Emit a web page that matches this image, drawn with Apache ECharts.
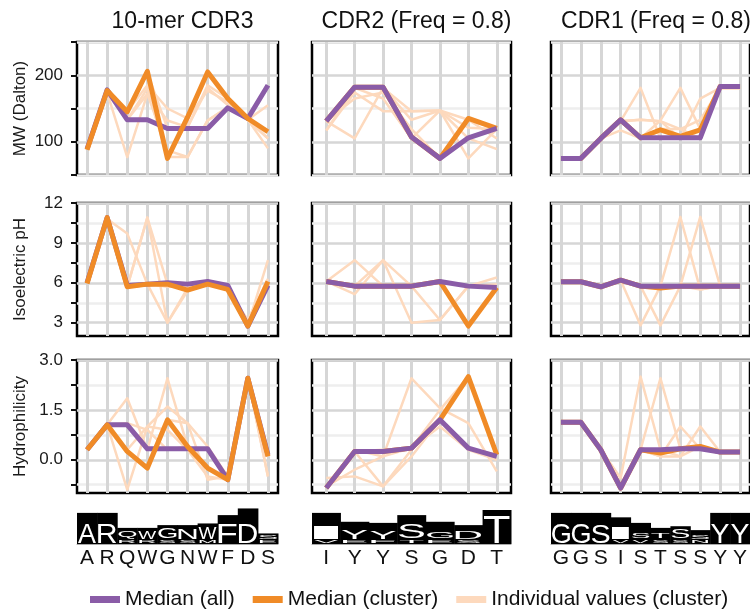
<!DOCTYPE html>
<html>
<head>
<meta charset="utf-8">
<script src="https://cdn.jsdelivr.net/npm/echarts@6/dist/echarts.min.js"></script>
<style>
  html, body { margin: 0; padding: 0; background: #fff; }
  #chart { width: 750px; height: 609px; }
</style>
</head>
<body>
<div id="chart"></div>
<script>
// ---- Residues of each CDR consensus ----
const cdr3Residues = ['A', 'R', 'Q', 'W', 'G', 'N', 'W', 'F', 'D', 'S'];
const cdr2Residues = ['I', 'Y', 'Y', 'S', 'G', 'D', 'T'];
const cdr1Residues = ['G', 'G', 'S', 'I', 'S', 'T', 'S', 'S', 'Y', 'Y'];

const columnTitles = ['10-mer CDR3', 'CDR2 (Freq = 0.8)', 'CDR1 (Freq = 0.8)'];
const rowNames = ['MW (Dalton)', 'Isoelectric pH', 'Hydrophilicity'];

// ---- Y-axis ticks / labels ----
const mwTicks = [50, 100, 150, 200, 250];
const mwLabels = [100, 200];
const pITicks = [3, 4.5, 6, 7.5, 9, 10.5, 12];
const pILabels = [3, 6, 9, 12];
const hydroTicks = [-0.75, 0, 0.75, 1.5, 2.25, 3];
const hydroLabels = [0, 1.5, 3];

// ---- Molecular weight ----
const mwCdr3All = [89, 178, 133, 133, 120, 120, 120, 151, 135, 185];
const mwCdr3Cluster = [88, 177, 145, 206, 75, 137, 205, 165, 135, 115];
const mwCdr3Individual = [
  [89, 174, 146, 204, 75, 132, 204, 165, 133, 105],
  [89, 174, 77, 172, 132, 122, 181, 155, 133, 155],
  [89, 174, 146, 185, 150, 135, 177, 160, 133, 90],
  [89, 174, 133, 172, 87, 77, 132, 152, 133, 117],
  [89, 174, 146, 204, 120, 122, 185, 165, 133, 105],
  [89, 174, 133, 180, 77, 77, 132, 152, 133, 105]
];
const mwCdr2All = [131, 182, 182, 107, 75, 106, 120];
const mwCdr2Cluster = [131, 182, 182, 107, 75, 135, 120];
const mwCdr2Individual = [
  [131, 181, 181, 105, 75, 133, 119],
  [117, 174, 146, 146, 147, 105, 89],
  [131, 105, 181, 133, 147, 75, 119],
  [117, 181, 165, 105, 147, 133, 105],
  [131, 165, 174, 119, 75, 133, 119],
  [131, 181, 181, 146, 147, 121, 119]
];
const mwCdr1All = [75, 75, 105, 133, 106, 106, 106, 106, 183, 183];
const mwCdr1Cluster = [75, 75, 105, 133, 106, 118, 108, 118, 183, 183];
const mwCdr1Individual = [
  [75, 75, 105, 131, 181, 105, 105, 105, 181, 181],
  [75, 75, 105, 117, 105, 132, 181, 119, 181, 181],
  [75, 75, 105, 131, 133, 131, 105, 165, 181, 181],
  [75, 75, 105, 131, 105, 119, 119, 105, 181, 181],
  [75, 75, 105, 131, 133, 131, 119, 133, 181, 181]
];

// ---- Isoelectric point ----
const pICdr3All = [6.0, 10.9, 5.8, 5.9, 6.0, 5.9, 6.1, 5.8, 2.75, 5.8];
const pICdr3Cluster = [5.95, 10.9, 5.7, 5.9, 5.9, 5.45, 5.9, 5.5, 2.75, 6.1];
const pICdr3Individual = [
  [6.0, 10.8, 9.7, 5.9, 3.0, 5.6, 5.9, 5.5, 2.8, 6.1],
  [6.0, 10.8, 5.7, 10.9, 5.9, 5.4, 5.9, 5.5, 2.8, 7.7],
  [6.0, 10.8, 5.7, 5.9, 5.9, 5.4, 5.9, 5.5, 2.8, 5.7],
  [6.0, 10.8, 5.7, 10.9, 3.0, 5.4, 5.9, 5.5, 3.2, 6.3],
  [6.0, 10.8, 5.7, 5.9, 5.7, 5.7, 5.9, 5.5, 2.8, 5.7]
];
const pICdr2All = [6.1, 5.75, 5.75, 5.75, 6.1, 5.75, 5.65];
const pICdr2Cluster = [6.1, 5.75, 5.75, 5.75, 6.1, 2.75, 5.65];
const pICdr2Individual = [
  [6.1, 7.7, 5.75, 5.75, 6.1, 2.75, 5.65],
  [6.1, 5.15, 7.7, 5.75, 6.1, 5.75, 6.4],
  [6.1, 5.75, 7.7, 3.0, 3.2, 5.75, 5.65],
  [6.1, 5.75, 5.75, 5.75, 3.2, 5.75, 5.9],
  [6.1, 5.75, 5.75, 5.75, 6.1, 5.75, 5.65]
];
const pICdr1All = [6.08, 6.08, 5.7, 6.2, 5.75, 5.75, 5.75, 5.75, 5.75, 5.75];
const pICdr1Cluster = [6.08, 6.08, 5.7, 6.2, 5.75, 5.6, 5.75, 5.75, 5.75, 5.75];
const pICdr1Individual = [
  [6.08, 6.08, 5.7, 6.2, 2.8, 5.75, 5.75, 5.75, 5.75, 5.75],
  [6.08, 6.08, 5.7, 6.2, 5.75, 2.8, 5.75, 5.5, 5.75, 5.75],
  [6.08, 6.08, 5.7, 6.2, 5.75, 5.75, 10.95, 5.5, 5.75, 5.75],
  [6.08, 6.08, 5.7, 6.2, 5.75, 5.75, 5.75, 10.95, 5.75, 5.75],
  [6.08, 6.08, 5.7, 6.2, 5.75, 5.75, 5.75, 5.75, 5.75, 5.75]
];

// ---- Hydrophilicity ----
const hyCdr3All = [0.3, 1.05, 1.05, 0.33, 0.33, 0.33, 0.33, -0.6, 2.45, 0.15];
const hyCdr3Cluster = [0.3, 1.05, 0.25, -0.25, 1.2, 0.4, -0.25, -0.6, 2.45, 0.1];
const hyCdr3Individual = [
  [0.3, 1.05, 1.85, 0.3, 2.45, 0.4, -0.25, -0.6, 2.45, 0.1],
  [0.3, 1.05, -0.9, 1.0, 1.6, 1.1, -0.6, -0.5, 2.45, -0.5],
  [0.3, 1.05, 1.1, 0.9, 0.3, 0.4, -0.25, -0.6, 2.45, 0.1],
  [0.3, 1.05, 0.25, -0.25, 1.2, 1.1, 0.4, -0.5, 2.45, 0.1],
  [0.3, 1.05, 0.3, 1.0, 0.9, 0.3, -0.5, -0.6, 2.45, -0.5]
];
const hyCdr2All = [-0.85, 0.25, 0.25, 0.35, 1.2, 0.35, 0.1];
const hyCdr2Cluster = [-0.85, 0.25, 0.25, 0.35, 1.2, 2.5, 0.15];
const hyCdr2Individual = [
  [-0.8, 0.3, 0.1, 2.45, 1.55, 1.1, -0.35],
  [-0.55, -0.5, -0.8, 0.3, 1.2, 0.3, 0.15],
  [-0.8, 0.25, 0.3, 0.35, 1.5, 2.5, 0.15],
  [-0.8, -0.3, 0.1, 0.35, 1.0, 0.3, 0.0],
  [-0.8, 0.25, -0.8, 0.1, 1.2, 0.35, 0.15]
];
const hyCdr1All = [1.13, 1.13, 0.3, -0.85, 0.3, 0.3, 0.33, 0.33, 0.23, 0.23];
const hyCdr1Cluster = [1.13, 1.13, 0.3, -0.85, 0.3, 0.2, 0.33, 0.4, 0.23, 0.23];
const hyCdr1Individual = [
  [1.13, 1.13, 0.3, -0.55, 2.5, 0.3, 0.33, 0.33, 0.23, 0.23],
  [1.13, 1.13, 0.3, -0.85, 0.3, 2.45, 0.33, 0.33, 0.23, 0.23],
  [1.13, 1.13, 0.3, -0.85, 0.3, 0.1, 1.0, 0.33, 0.23, 0.23],
  [1.13, 1.13, 0.3, -0.85, 0.3, 0.3, 0.1, 1.0, 0.23, 0.23],
  [1.13, 1.13, 0.3, -0.85, 0.3, 0.1, 0.1, 0.4, 0.23, 0.23]
];

// ---- Sequence logos (bits) ----
const cdr3LogoBits = [2.8, 2.8, 1.45, 1.45, 1.7, 1.7, 1.85, 2.6, 3.2, 0.95];
const cdr3TopBits = [1.8, 1.8, 0.8, 0.8, 1.0, 1.0, 1.15, 1.8, 1.8, 0.4];
const cdr3SubLetters = ['', '', 'R', 'R', 'S', 'S', 'M', '', '', 'E'];
const cdr3SubBits = [0, 0, 0.4, 0.4, 0.4, 0.4, 0.4, 0, 0, 0.4];

const cdr2LogoBits = [2.8, 2.0, 1.9, 2.6, 2.0, 1.7, 3.05];
const cdr2TopBits = [1.26, 0.9, 0.75, 1.35, 0.65, 0.75, 2.5];
const cdr2SubLetters = ['V', 'E', 'F', 'T', 'E', 'S', ''];
const cdr2SubBits = [0.4, 0.4, 0.4, 0.4, 0.4, 0.4, 0];

const cdr1LogoBits = [2.8, 2.8, 2.8, 2.4, 1.9, 1.45, 1.6, 1.25, 2.8, 2.8];
const cdr1TopBits = [1.8, 1.8, 1.8, 1.1, 0.55, 0.5, 0.9, 0.45, 1.8, 1.8];
const cdr1SubLetters = ['', '', '', 'V', 'V', 'S', 'S', 'N', '', ''];
const cdr1SubBits = [0, 0, 0, 0.4, 0.4, 0.4, 0.4, 0.4, 0, 0];

// ---- Styling ----
const PURPLE = '#8a5ca7';
const ORANGE = '#f08b27';
const PEACH = '#fdd9bd';
const MAJOR_GRID = '#d6d6d6';
const MINOR_GRID = '#eeeeee';
const FONT = '"Liberation Sans", Arial, Helvetica, sans-serif';

const columns = [
  { title: columnTitles[0], residues: cdr3Residues, left: 77, width: 201, purpleOnTop: false,
    logo: { bits: cdr3LogoBits, top: cdr3TopBits, sub: cdr3SubLetters, subBits: cdr3SubBits } },
  { title: columnTitles[1], residues: cdr2Residues, left: 312, width: 199, purpleOnTop: true,
    logo: { bits: cdr2LogoBits, top: cdr2TopBits, sub: cdr2SubLetters, subBits: cdr2SubBits } },
  { title: columnTitles[2], residues: cdr1Residues, left: 551, width: 200, purpleOnTop: true,
    logo: { bits: cdr1LogoBits, top: cdr1TopBits, sub: cdr1SubLetters, subBits: cdr1SubBits } }
];

const rows = [
  { name: rowNames[0], top: 42, min: 50, max: 250, ticks: mwTicks, labels: mwLabels,
    gridColors: [MINOR_GRID, MAJOR_GRID], fmt: v => String(v),
    panels: [
      [mwCdr3All, mwCdr3Cluster, mwCdr3Individual],
      [mwCdr2All, mwCdr2Cluster, mwCdr2Individual],
      [mwCdr1All, mwCdr1Cluster, mwCdr1Individual]
    ] },
  { name: rowNames[1], top: 203, min: 2, max: 12, ticks: pITicks, labels: pILabels,
    gridColors: [MAJOR_GRID, MINOR_GRID], fmt: v => String(v),
    panels: [
      [pICdr3All, pICdr3Cluster, pICdr3Individual],
      [pICdr2All, pICdr2Cluster, pICdr2Individual],
      [pICdr1All, pICdr1Cluster, pICdr1Individual]
    ] },
  { name: rowNames[2], top: 360, min: -1, max: 3, ticks: hydroTicks, labels: hydroLabels,
    gridColors: [MINOR_GRID, MAJOR_GRID], fmt: v => Number(v).toFixed(1),
    panels: [
      [hyCdr3All, hyCdr3Cluster, hyCdr3Individual],
      [hyCdr2All, hyCdr2Cluster, hyCdr2Individual],
      [hyCdr1All, hyCdr1Cluster, hyCdr1Individual]
    ] }
];
const PANEL_HEIGHT = 133;

const grid = [], xAxis = [], yAxis = [], series = [];

rows.forEach((row, r) => {
  columns.forEach((col, c) => {
    const gi = grid.length;
    grid.push({
      left: col.left, top: row.top, width: col.width, height: PANEL_HEIGHT,
      show: true, borderColor: '#000', borderWidth: 2.5, backgroundColor: '#fff', z: 0
    });
    xAxis.push({
      gridIndex: gi, type: 'category', data: col.residues, boundaryGap: true,
      axisLine: { show: false }, axisTick: { show: false }, axisLabel: { show: false, interval: 0 },
      splitLine: { show: true, interval: 0, alignWithLabel: true,
        lineStyle: { color: MAJOR_GRID, width: 3 } }
    });
    yAxis.push({
      gridIndex: gi, type: 'value', min: row.min, max: row.max,
      name: c === 0 ? row.name : '', nameLocation: 'middle', nameGap: 48,
      nameTextStyle: { fontSize: 17, color: '#1a1a1a', fontFamily: FONT },
      axisLine: { show: false },
      axisTick: { show: c === 0, customValues: row.ticks, length: 6,
        lineStyle: { color: '#111', width: 2 } },
      axisLabel: { show: c === 0, customValues: row.labels, formatter: row.fmt, margin: 14,
        fontSize: 17, color: '#1a1a1a', fontFamily: FONT },
      splitLine: { show: true, lineStyle: { color: row.gridColors, width: 2.5 } }
    });
    const [all, cluster, individual] = row.panels[c];
    individual.forEach(vals => {
      series.push({
        type: 'line', name: 'Individual values (cluster)', xAxisIndex: gi, yAxisIndex: gi,
        data: vals, symbol: 'none', silent: true, color: PEACH,
        lineStyle: { color: PEACH, width: 2.5, join: 'round' }, z: 2
      });
    });
    const allSeries = {
      type: 'line', name: 'Median (all)', xAxisIndex: gi, yAxisIndex: gi, data: all,
      symbol: 'none', silent: true, color: PURPLE,
      lineStyle: { color: PURPLE, width: 5, join: 'round' }, z: 3
    };
    const clusterSeries = {
      type: 'line', name: 'Median (cluster)', xAxisIndex: gi, yAxisIndex: gi, data: cluster,
      symbol: 'none', silent: true, color: ORANGE,
      lineStyle: { color: ORANGE, width: 5, join: 'round' }, z: 3
    };
    if (col.purpleOnTop) series.push(clusterSeries, allSeries);
    else series.push(allSeries, clusterSeries);
  });
});

// ---- Sequence logo drawing ----
const measureCtx = document.createElement('canvas').getContext('2d');
function inkBox(ch) {
  measureCtx.font = '100px ' + FONT;
  measureCtx.textAlign = 'center';
  measureCtx.textBaseline = 'middle';
  const m = measureCtx.measureText(ch);
  return { l: m.actualBoundingBoxLeft, r: m.actualBoundingBoxRight,
           a: m.actualBoundingBoxAscent, d: m.actualBoundingBoxDescent };
}
// A white letter stretched to fill the rectangle (x0, y0, w, h)
function stretchedLetter(ch, x0, y0, w, h) {
  const b = inkBox(ch);
  const sx = w / Math.max(1, b.l + b.r);
  const sy = h / Math.max(1, b.a + b.d);
  const cx0 = (b.r - b.l) / 2, cy0 = (b.d - b.a) / 2;
  return {
    type: 'text', silent: true,
    x: x0 + w / 2 - sx * cx0, y: y0 + h / 2 - sy * cy0, scaleX: sx, scaleY: sy,
    style: { text: ch, x: 0, y: 0, align: 'center', verticalAlign: 'middle',
             font: '100px ' + FONT, fill: '#fff' }
  };
}
function logoRenderer(col) {
  const logo = col.logo;
  return function (params, api) {
    const i = params.dataIndex;
    const base = api.coord([i, 0]);
    const top = api.coord([i, api.value(1)]);
    const bw = api.size([1, 0])[0];
    const x0 = base[0] - bw / 2;
    const children = [{
      type: 'rect', silent: true,
      shape: { x: x0, y: top[1], width: bw + 0.5, height: base[1] - top[1] },
      style: { fill: '#000' }
    }];
    const lw = bw * 0.9, lx = base[0] - lw / 2;
    const subTop = api.coord([i, logo.subBits[i]])[1];
    const mainTop = api.coord([i, logo.subBits[i] + logo.top[i]])[1];
    if (logo.sub[i]) {
      children.push(stretchedLetter(logo.sub[i], lx + 1, subTop + 0.5, lw - 2, base[1] - subTop - 1.5));
    }
    children.push(stretchedLetter(col.residues[i], lx, mainTop, lw, subTop - mainTop - 1));
    return { type: 'group', children };
  };
}

columns.forEach((col, c) => {
  const gi = grid.length;
  grid.push({ left: col.left, top: 496, width: col.width, height: 48 });
  xAxis.push({
    gridIndex: gi, type: 'category', data: col.residues, boundaryGap: true,
    axisLine: { show: true, lineStyle: { color: '#aaa', width: 1 } },
    axisTick: { show: false },
    axisLabel: { show: true, interval: 0, margin: 4, fontSize: 21, color: '#111', fontFamily: FONT },
    splitLine: { show: false }
  });
  yAxis.push({ gridIndex: gi, type: 'value', min: 0, max: 4.32, show: false, splitLine: { show: false } });
  series.push({
    type: 'custom', name: 'logo-' + c, xAxisIndex: gi, yAxisIndex: gi, silent: true,
    data: col.logo.bits.map((b, i) => [i, b]),
    renderItem: logoRenderer(col), clip: false
  });
});

const option = {
  animation: false,
  backgroundColor: '#fff',
  textStyle: { fontFamily: FONT },
  title: columns.map(col => ({
    text: col.title, left: col.left + col.width / 2, top: 5, textAlign: 'center',
    textStyle: { fontSize: 23, fontWeight: 'normal', color: '#111', fontFamily: FONT }
  })),
  legend: {
    left: 85, top: 584, itemWidth: 30, itemHeight: 7, itemGap: 18, icon: 'rect',
    selectedMode: false,
    textStyle: { fontSize: 21, color: '#111', fontFamily: FONT },
    data: [
      { name: 'Median (all)', itemStyle: { color: PURPLE } },
      { name: 'Median (cluster)', itemStyle: { color: ORANGE } },
      { name: 'Individual values (cluster)', itemStyle: { color: PEACH } }
    ]
  },
  grid, xAxis, yAxis, series
};

const chart = echarts.init(document.getElementById('chart'), null, { renderer: 'canvas' });
chart.setOption(option);
</script>
</body>
</html>
